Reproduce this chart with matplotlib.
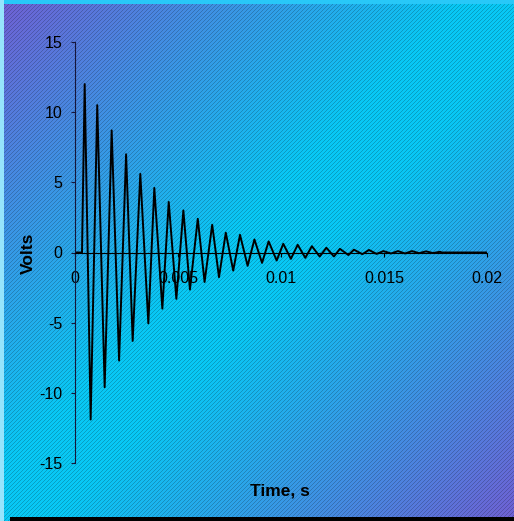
import numpy as np
import matplotlib
matplotlib.use("Agg")
import matplotlib.pyplot as plt

plt.rcParams['font.family'] = ['Liberation Sans', 'DejaVu Sans']
plt.rcParams['axes.unicode_minus'] = False

# damped oscillation: start, peaks and troughs (s, V)
start_t = [0.0, 0.00034]
start_v = [0.0, 0.0]
peak_t = [0.00047, 0.00108, 0.00178, 0.00248, 0.00317, 0.00385, 0.00455, 0.00526,
          0.00596, 0.00666, 0.00732, 0.00801, 0.00871, 0.00940, 0.01011, 0.01081,
          0.01150, 0.01220, 0.01286, 0.01354, 0.01427, 0.01497, 0.01568, 0.01636,
          0.01704, 0.01772]
peak_v = [12.0, 10.5, 8.7, 7.0, 5.6, 4.6, 3.6, 3.0, 2.4, 1.98, 1.41, 1.26, 0.93,
          0.79, 0.62, 0.55, 0.45, 0.34, 0.26, 0.20, 0.18, 0.10, 0.10, 0.10, 0.08, 0.05]
trough_t = [0.00076, 0.00144, 0.00214, 0.00280, 0.00356, 0.00424, 0.00492, 0.00558,
            0.00629, 0.00699, 0.00768, 0.00838, 0.00908, 0.00979, 0.01048, 0.01118,
            0.01188, 0.01257, 0.01327, 0.01395, 0.01464, 0.01534, 0.01602, 0.01670,
            0.01738]
trough_v = [-11.9, -9.6, -7.7, -6.3, -5.05, -4.0, -3.3, -2.64, -2.1, -1.76, -1.29,
            -0.95, -0.74, -0.57, -0.45, -0.38, -0.29, -0.28, -0.18, -0.12, -0.10,
            -0.07, -0.07, -0.05, -0.04]
end_t = [0.0178, 0.02]
end_v = [0.0, 0.0]

x_ticks = [0, 0.005, 0.01, 0.015, 0.02]
x_labels = ['0', '0.005', '0.01', '0.015', '0.02']
y_ticks = [-15, -10, -5, 0, 5, 10, 15]

# merge peaks and troughs in time order
t = list(start_t)
v = list(start_v)
for i in range(len(peak_t)):
    t.append(peak_t[i]); v.append(peak_v[i])
    if i < len(trough_t):
        t.append(trough_t[i]); v.append(trough_v[i])
t += end_t
v += end_v

W, H = 514, 521
fig = plt.figure(figsize=(W / 100, H / 100), dpi=100)

# background: diagonal purple-cyan-purple gradient with "/" hatching
yy, xx = np.mgrid[0:H, 0:W]
s = (xx / W + yy / H) / 2
stops = [0.0, 0.45, 0.55, 1.0]
purple = np.array([112, 96, 212])
cyan = np.array([8, 200, 245])
cols = [purple, cyan, cyan, purple]
img = np.zeros((H, W, 3))
for c in range(3):
    img[..., c] = np.interp(s, stops, [col[c] for col in cols])
hatch = ((xx + yy) % 4 == 0)
img[hatch] *= 0.8
img[:, :4] = [150, 228, 252]
img[:4, 4:] = [40, 200, 248]
img[517:, 10:] = [0, 0, 0]
bg = fig.add_axes([0, 0, 1, 1])
bg.imshow(img.astype(np.uint8), aspect='auto', interpolation='nearest')
bg.axis('off')

ax = fig.add_axes([75 / W, (H - 463) / H, 412 / W, 421 / H])
ax.patch.set_alpha(0)
ax.plot(t, v, color='black', lw=1.4)
ax.set_xlim(0, 0.02)
ax.set_ylim(-15, 15)
ax.spines['top'].set_visible(False)
ax.spines['right'].set_visible(False)
ax.spines['bottom'].set_position(('data', 0))
ax.spines['left'].set_color('#15153a')
ax.spines['bottom'].set_color('black')
ax.set_xticks(x_ticks)
ax.set_xticklabels(x_labels)
ax.set_yticks(y_ticks)
ax.tick_params(axis='x', direction='out', length=3, pad=10, labelsize=11.5)
ax.tick_params(axis='y', direction='out', length=3, pad=6, labelsize=11.5, color='#15153a')

fig.text(280 / W, 1 - 491 / H, 'Time, s', ha='center', va='center',
         fontsize=12.5, fontweight='bold')
fig.text(28 / W, 1 - 253 / H, 'Volts', ha='center', va='center',
         fontsize=12.5, fontweight='bold', rotation=90)

fig.savefig('out.png', dpi=100)
